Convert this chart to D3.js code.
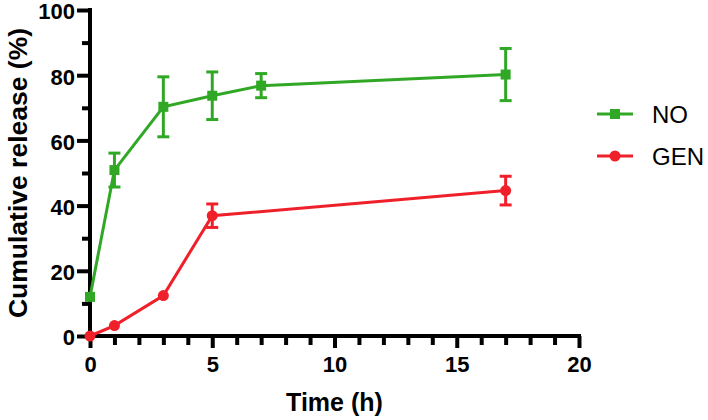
<!DOCTYPE html>
<html>
<head>
<meta charset="utf-8">
<script src="https://cdn.jsdelivr.net/npm/d3@7"></script>
<style>
html,body{margin:0;padding:0;background:#fff;}
svg{display:block;font-family:"Liberation Sans",Arial,Helvetica,sans-serif;}
</style>
</head>
<body>
<svg id="chart" width="708" height="420"></svg>
<script>
// ---- data ----
const timeNO = [0, 1, 3, 5, 7, 17];
const meanNO = [12, 50.9, 70.3, 73.7, 76.8, 80.2];
const errNO  = [0, 5.2, 9.2, 7.3, 3.7, 8.0];

const timeGEN = [0, 1, 3, 5, 17];
const meanGEN = [0, 3.2, 12.4, 36.9, 44.6];
const errGEN  = [0, 0, 0, 3.6, 4.4];

const xTicks = [0, 5, 10, 15, 20];
const yTicks = [0, 20, 40, 60, 80, 100];
const seriesNames = ["NO", "GEN"];

const colNO = "#30a826", colGEN = "#f0202a";

const svg = d3.select("#chart");
const x = d3.scaleLinear().domain([0, 20]).range([90, 579]);
const y = d3.scaleLinear().domain([0, 100]).range([336, 10]);

// axes
const axW = 4;
const gy = svg.append("g").attr("transform", "translate(90,0)");
gy.append("g").call(d3.axisLeft(y).tickValues(d3.range(10, 100, 20)).tickSize(8).tickFormat(""));
gy.append("g").call(d3.axisLeft(y).tickValues(yTicks).tickSize(13).tickPadding(2).tickFormat(d3.format("d")));
gy.selectAll(".domain").remove();
gy.selectAll(".tick line").style("stroke", "#000").style("stroke-width", "4px");
gy.selectAll("text").attr("font-size", 22).attr("font-weight", "bold").attr("fill", "#000").attr("dy", "0.4em")
  .attr("font-family", "'Liberation Sans',Arial,sans-serif");

const gx = svg.append("g").attr("transform", "translate(0,336)");
gx.append("g").call(d3.axisBottom(x).tickValues(d3.range(0, 21, 1).filter(d => d % 5 !== 0)).tickSize(9).tickFormat(""));
gx.append("g").call(d3.axisBottom(x).tickValues(xTicks).tickSize(12).tickPadding(8).tickFormat(d3.format("d")));
gx.selectAll(".domain").remove();
gx.selectAll(".tick line").style("stroke", "#000").style("stroke-width", "4px");
gx.selectAll("text").attr("font-size", 22).attr("font-weight", "bold").attr("fill", "#000")
  .attr("font-family", "'Liberation Sans',Arial,sans-serif");

// axis lines
svg.append("line").attr("x1", x(0)).attr("x2", x(0)).attr("y1", y(100) - 2).attr("y2", y(0) + axW / 2)
  .attr("stroke", "#000").attr("stroke-width", axW);
svg.append("line").attr("x1", x(0) - axW / 2).attr("x2", x(20) + 2).attr("y1", y(0)).attr("y2", y(0))
  .attr("stroke", "#000").attr("stroke-width", axW);

// titles
svg.append("text").attr("x", x(10)).attr("y", 411).attr("text-anchor", "middle")
  .attr("font-size", 25).attr("font-weight", "bold").text("Time (h)");
svg.append("text").attr("transform", `translate(27,${(y(0) + y(100)) / 2}) rotate(-90)`)
  .attr("text-anchor", "middle").attr("font-size", 26.5).attr("font-weight", "bold")
  .text("Cumulative release (%)");

function drawSeries(ts, ms, es, col, shape) {
  const data = ts.map((t, i) => ({t, m: ms[i], e: es[i]}));
  const g = svg.append("g");
  g.append("path").datum(data)
    .attr("d", d3.line().x(d => x(d.t)).y(d => y(d.m)))
    .attr("fill", "none").attr("stroke", col).attr("stroke-width", 3);
  const eb = g.selectAll(".eb").data(data.filter(d => d.e > 0)).enter().append("g");
  eb.append("line").attr("x1", d => x(d.t)).attr("x2", d => x(d.t))
    .attr("y1", d => y(d.m - d.e)).attr("y2", d => y(d.m + d.e))
    .attr("stroke", col).attr("stroke-width", 3);
  [1, -1].forEach(s => {
    eb.append("line").attr("x1", d => x(d.t) - 6).attr("x2", d => x(d.t) + 6)
      .attr("y1", d => y(d.m + s * d.e)).attr("y2", d => y(d.m + s * d.e))
      .attr("stroke", col).attr("stroke-width", 3);
  });
  if (shape === "square") {
    g.selectAll(".mk").data(data).enter().append("rect")
      .attr("x", d => x(d.t) - 5).attr("y", d => y(d.m) - 5)
      .attr("width", 10).attr("height", 10).attr("fill", col);
  } else {
    g.selectAll(".mk").data(data).enter().append("circle")
      .attr("cx", d => x(d.t)).attr("cy", d => y(d.m)).attr("r", 5.5).attr("fill", col);
  }
}
drawSeries(timeNO, meanNO, errNO, colNO, "square");
drawSeries(timeGEN, meanGEN, errGEN, colGEN, "circle");

// legend
const leg = svg.append("g");
const legY = [114, 156];
const cols = [colNO, colGEN];
seriesNames.forEach((name, i) => {
  leg.append("line").attr("x1", 597).attr("x2", 633).attr("y1", legY[i]).attr("y2", legY[i])
    .attr("stroke", cols[i]).attr("stroke-width", 3);
  if (i === 0) leg.append("rect").attr("x", 610).attr("y", legY[i] - 5).attr("width", 10).attr("height", 10).attr("fill", cols[i]);
  else leg.append("circle").attr("cx", 615).attr("cy", legY[i]).attr("r", 5.5).attr("fill", cols[i]);
  leg.append("text").attr("x", 652).attr("y", legY[i] + 9).attr("font-size", 24).attr("fill", "#000").text(name);
});
</script>
</body>
</html>
